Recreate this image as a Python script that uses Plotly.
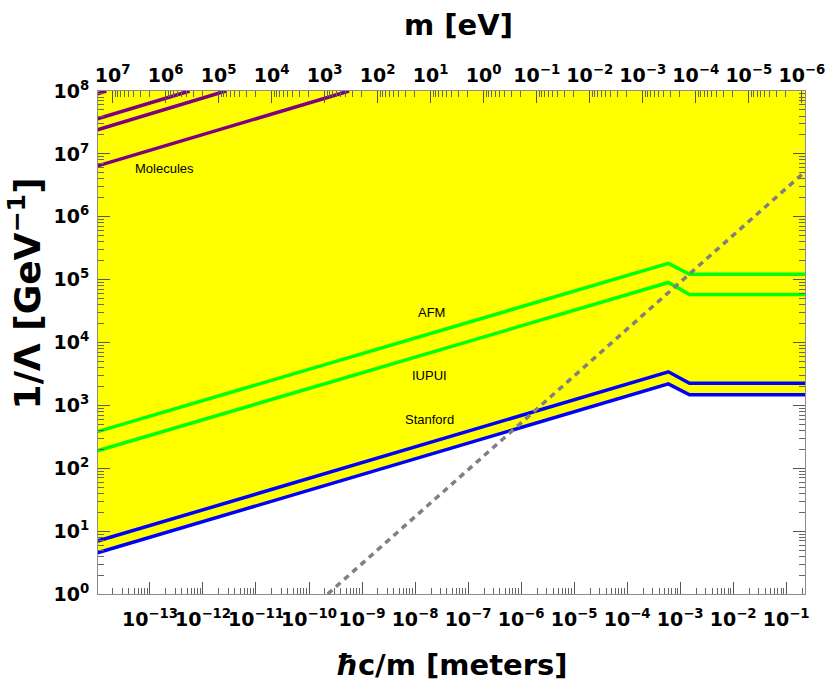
"""Bounds on 1/Lambda vs Compton wavelength, Mathematica-style log-log frame."""

import numpy as np
import plotly.graph_objects as go

HBARC = 1.9733e-7  # eV * m

# plot window
x_min, x_max = 10**-13.98, 10**-0.645
y_min, y_max = 1e0, 1e8

# bound curves: hbar c / m [m]  ->  1/Lambda [GeV^-1]
kink_x = [1.0e-14, 6.0e-4, 1.5e-3, 0.25]
afm = [380, 1.81e5, 1.22e5, 1.22e5]
iupui = [188, 9.0e4, 5.8e4, 5.8e4]
stanford_hi = [6.9, 3.42e3, 2.24e3, 2.24e3]
stanford_lo = [4.5, 2.2e3, 1.47e3, 1.47e3]

# molecule bounds (four lines)
mol_x = [[1.0e-14, 1.5e-14], [1.0e-14, 5.6e-13], [1.0e-14, 2.7e-12], [1.0e-14, 5.7e-10]]
mol_y = [[9.0e7, 1e8], [3.6e7, 1e8], [2.4e7, 1e8], [6.4e6, 1e8]]

# gray dashed reference line
dashed_x = [2.25e-10, 0.25]
dashed_y = [1.0, 5.6e6]

# tick exponents
x_exps = list(range(-13, 0))
m_exps = list(range(7, -7, -1))
y_exps = list(range(0, 9))

PURPLE = '#800080'
GREEN = '#00FF00'
BLUE = '#0000FF'
YELLOW = '#FFFF00'
TICK_FONT = dict(family='DejaVu Sans', size=19, color='black', weight='bold')
TITLE_FONT = dict(family='DejaVu Sans', size=29, color='black', weight='bold')
LABEL_FONT = dict(family='Liberation Sans, Arial', size=13, color='black')


def pow_label(n):
    sign = '\u2212' if n < 0 else ''
    return f'10<sup>{sign}{abs(n)}</sup>'


def minor_vals(lo, hi):
    return [m * 10.0**e for e in range(lo, hi) for m in range(2, 10)]


fig = go.Figure()

# yellow excluded region above the lowest Stanford line
fig.add_trace(go.Scatter(
    x=kink_x + kink_x[::-1],
    y=stanford_lo + [y_max] * len(kink_x),
    fill='toself', fillcolor=YELLOW, mode='none', hoverinfo='skip'
))

for xs, ys in zip(mol_x, mol_y):
    fig.add_trace(go.Scatter(x=xs, y=ys, mode='lines', line=dict(color=PURPLE, width=3.5)))

for ys in (afm, iupui):
    fig.add_trace(go.Scatter(x=kink_x, y=ys, mode='lines', line=dict(color=GREEN, width=3.5)))

for ys in (stanford_hi, stanford_lo):
    fig.add_trace(go.Scatter(x=kink_x, y=ys, mode='lines', line=dict(color=BLUE, width=3.5)))

fig.add_trace(go.Scatter(
    x=dashed_x, y=dashed_y, mode='lines',
    line=dict(color='#808080', width=3.5, dash='6px,5px')
))

# dummy trace so the top (mass) axis is drawn
fig.add_trace(go.Scatter(
    x=[HBARC / x_min, HBARC / x_max], y=[y_min, y_min],
    xaxis='x2', mode='none', hoverinfo='skip'
))

axis_common = dict(
    type='log', showgrid=False, zeroline=False,
    showline=True, linecolor='#8c8c8c', linewidth=1,
    ticks='inside', ticklen=12, tickwidth=1, tickcolor='#555555',
    tickfont=TICK_FONT, tickmode='array', tickangle=0,
    ticklabeloverflow='allow',
)
minor_common = dict(ticks='inside', ticklen=6, tickwidth=1, tickcolor='#666666', showgrid=False)

fig.update_layout(
    width=837, height=688,
    margin=dict(l=98, r=19, t=91, b=94),
    plot_bgcolor='white', paper_bgcolor='white',
    showlegend=False,
    xaxis=dict(
        axis_common,
        range=[np.log10(x_min), np.log10(x_max)],
        tickvals=[10.0**n for n in x_exps],
        ticktext=[pow_label(n) for n in x_exps],
        minor=dict(minor_common, tickmode='array', tickvals=minor_vals(-15, 1)),
        mirror=True,
        ticklabelstandoff=8,
    ),
    xaxis2=dict(
        axis_common,
        overlaying='x', side='top', anchor='y',
        range=[np.log10(HBARC / x_min), np.log10(HBARC / x_max)],
        tickvals=[10.0**n for n in m_exps],
        ticktext=[pow_label(n) for n in m_exps],
        minor=dict(minor_common, tickmode='array', tickvals=minor_vals(-7, 8)),
    ),
    yaxis=dict(
        axis_common,
        range=[np.log10(y_min), np.log10(y_max)],
        tickvals=[10.0**n for n in y_exps],
        ticktext=[pow_label(n) for n in y_exps],
        minor=dict(minor_common, tickmode='array', tickvals=minor_vals(0, 8)),
        mirror='ticks',
        ticklabelstandoff=4,
    ),
)

# curve labels
labels = [
    ('Molecules', 10**-12.717, 10**6.773),
    ('AFM', 10**-7.698, 10**4.483),
    ('IUPUI', 10**-7.72, 10**3.482),
    ('Stanford', 10**-7.72, 10**2.782),
]
for text, lx, ly in labels:
    fig.add_annotation(x=np.log10(lx), y=np.log10(ly), text=text, showarrow=False, font=LABEL_FONT)

# axis titles
title_kw = dict(xref='paper', yref='paper', showarrow=False,
                xanchor='center', yanchor='middle')
fig.add_annotation(x=0.51, y=1.131, text='m [eV]', font=TITLE_FONT, **title_kw)
fig.add_annotation(x=0.5, y=-0.141, text='<i>\u0127</i>c/m [meters]', font=TITLE_FONT, **title_kw)
fig.add_annotation(x=-0.103, y=0.598, text='1/\u039b [GeV<sup>\u22121</sup>]',
                   textangle=-90, font=dict(TITLE_FONT, size=36), **title_kw)

fig.write_html("out.html", post_script="document.body.style.margin='0';",
               config={'displayModeBar': False})
